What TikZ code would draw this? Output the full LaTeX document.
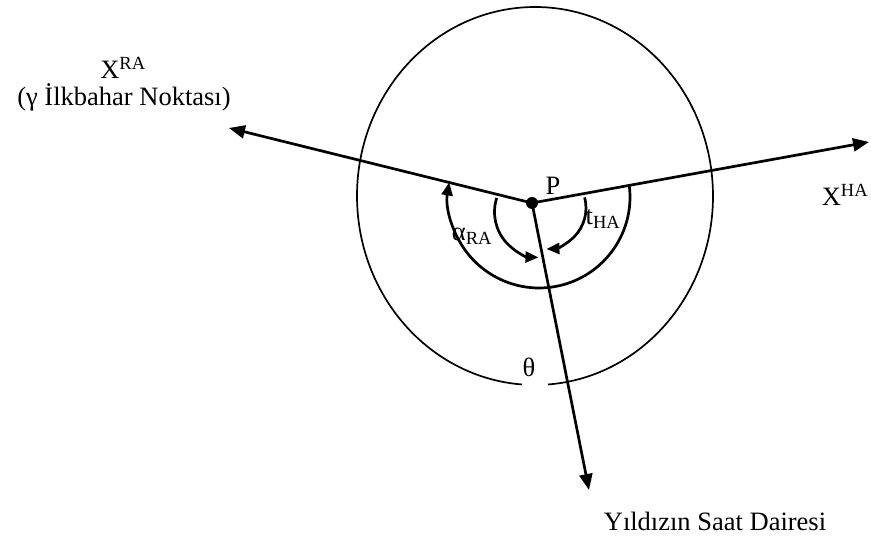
\documentclass[tikz,border=0pt]{standalone}
\usepackage{fontspec}
\setmainfont{Liberation Serif}
\usetikzlibrary{arrows.meta}
\begin{document}
\begin{tikzpicture}[x=1pt,y=1pt,
  lbl/.style={inner sep=0pt,font=\fontsize{26.5}{31}\selectfont},
  axis/.style={line width=2.7pt,-{Triangle[length=16pt,width=13pt]}},
  anglearc/.style={line width=2.7pt,-{Triangle[length=13pt,width=11pt]}},
  circ/.style={line width=1.7pt}]
\useasboundingbox (0,0) rectangle (871,543);
% great circle with gap at bottom
\draw[circ] (535,347) ++(274.2:178 and 189) arc[start angle=274.2, end angle=625.8, x radius=178, y radius=189];
% point P
\node[circle,fill=black,inner sep=0pt,minimum size=12pt] (P) at (532,340) {};
\coordinate (RA) at (229,415);
\coordinate (HA) at (869,401);
\coordinate (SD) at (589,53);
\draw[axis] (P.center) -- (RA);
\draw[axis] (P.center) -- (HA);
\draw[axis] (P.center) -- (SD);
% angle arcs
\draw[anglearc] (539,346) ++(7.3:91) arc[start angle=7.3, end angle=-189.2, radius=91];
\draw[anglearc] (540,331) ++(162:45.5) arc[start angle=162, end angle=268, radius=45.5];
\draw[anglearc] (545,335) ++(15:41) arc[start angle=15, end angle=-88, radius=41];
% labels
\node[lbl] (xra) at (123,475) {X\textsuperscript{RA}};
\node[lbl] (ilk) at (124,446) {(γ İlkbahar Noktası)};
\node[lbl] (xha) at (845,348) {X\textsuperscript{HA}};
\node[lbl] (pl) at (553,357) {P};
\node[lbl] (al) at (472,307) {α\textsubscript{RA}};
\node[lbl] (tl) at (603,324) {t\textsubscript{HA}};
\node[lbl] (th) at (529,176) {θ};
\node[lbl] (yl) at (715,22) {Yıldızın Saat Dairesi};
\end{tikzpicture}
\end{document}
